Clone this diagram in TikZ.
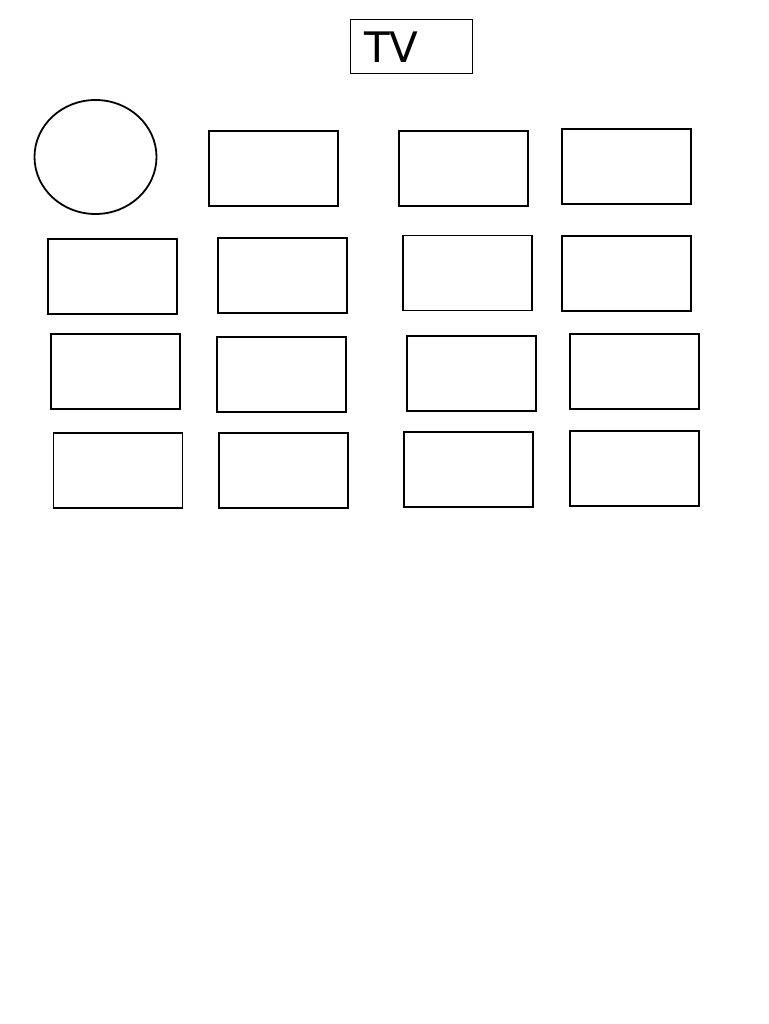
\documentclass[tikz,border=0pt]{standalone}
\usepackage{fontspec}
\setmainfont{DejaVu Sans}
\usetikzlibrary{shapes.geometric}
\begin{document}
\begin{tikzpicture}[x=1pt,y=-1pt,
  seat/.style={draw,line width=1.8pt,inner sep=0pt,minimum width=129pt,minimum height=75pt},
  tvbox/.style={draw,line width=0.9pt,inner sep=0pt,minimum width=122pt,minimum height=54pt}]
\useasboundingbox (0,0) rectangle (768,1024);
\node[tvbox] (tv) at (411,46) {};
\node[anchor=west,inner sep=0pt,font=\fontsize{42}{42}\selectfont] (tvlabel) at (364,47) {TV};
\node[draw,ellipse,line width=1.8pt,inner sep=0pt,minimum width=122pt,minimum height=114pt] (table) at (95.5,157) {};
% row 1
\node[seat] (r1c2) at (273.5,168.5) {};
\node[seat] (r1c3) at (463.5,168.5) {};
\node[seat] (r1c4) at (626.5,166.5) {};
% row 2
\node[seat] (r2c1) at (112.5,276.5) {};
\node[seat] (r2c2) at (282.5,275.5) {};
\node[seat] (r2c3) at (467.5,273) {};
\node[seat] (r2c4) at (626.5,273.5) {};
% row 3
\node[seat] (r3c1) at (115.5,371.5) {};
\node[seat] (r3c2) at (281.5,374.5) {};
\node[seat] (r3c3) at (471.5,373.5) {};
\node[seat] (r3c4) at (634.5,371.5) {};
% row 4
\node[seat] (r4c1) at (118,470.5) {};
\node[seat] (r4c2) at (283.5,470.5) {};
\node[seat] (r4c3) at (468.5,469.5) {};
\node[seat] (r4c4) at (634.5,468.5) {};
\end{tikzpicture}
\end{document}
